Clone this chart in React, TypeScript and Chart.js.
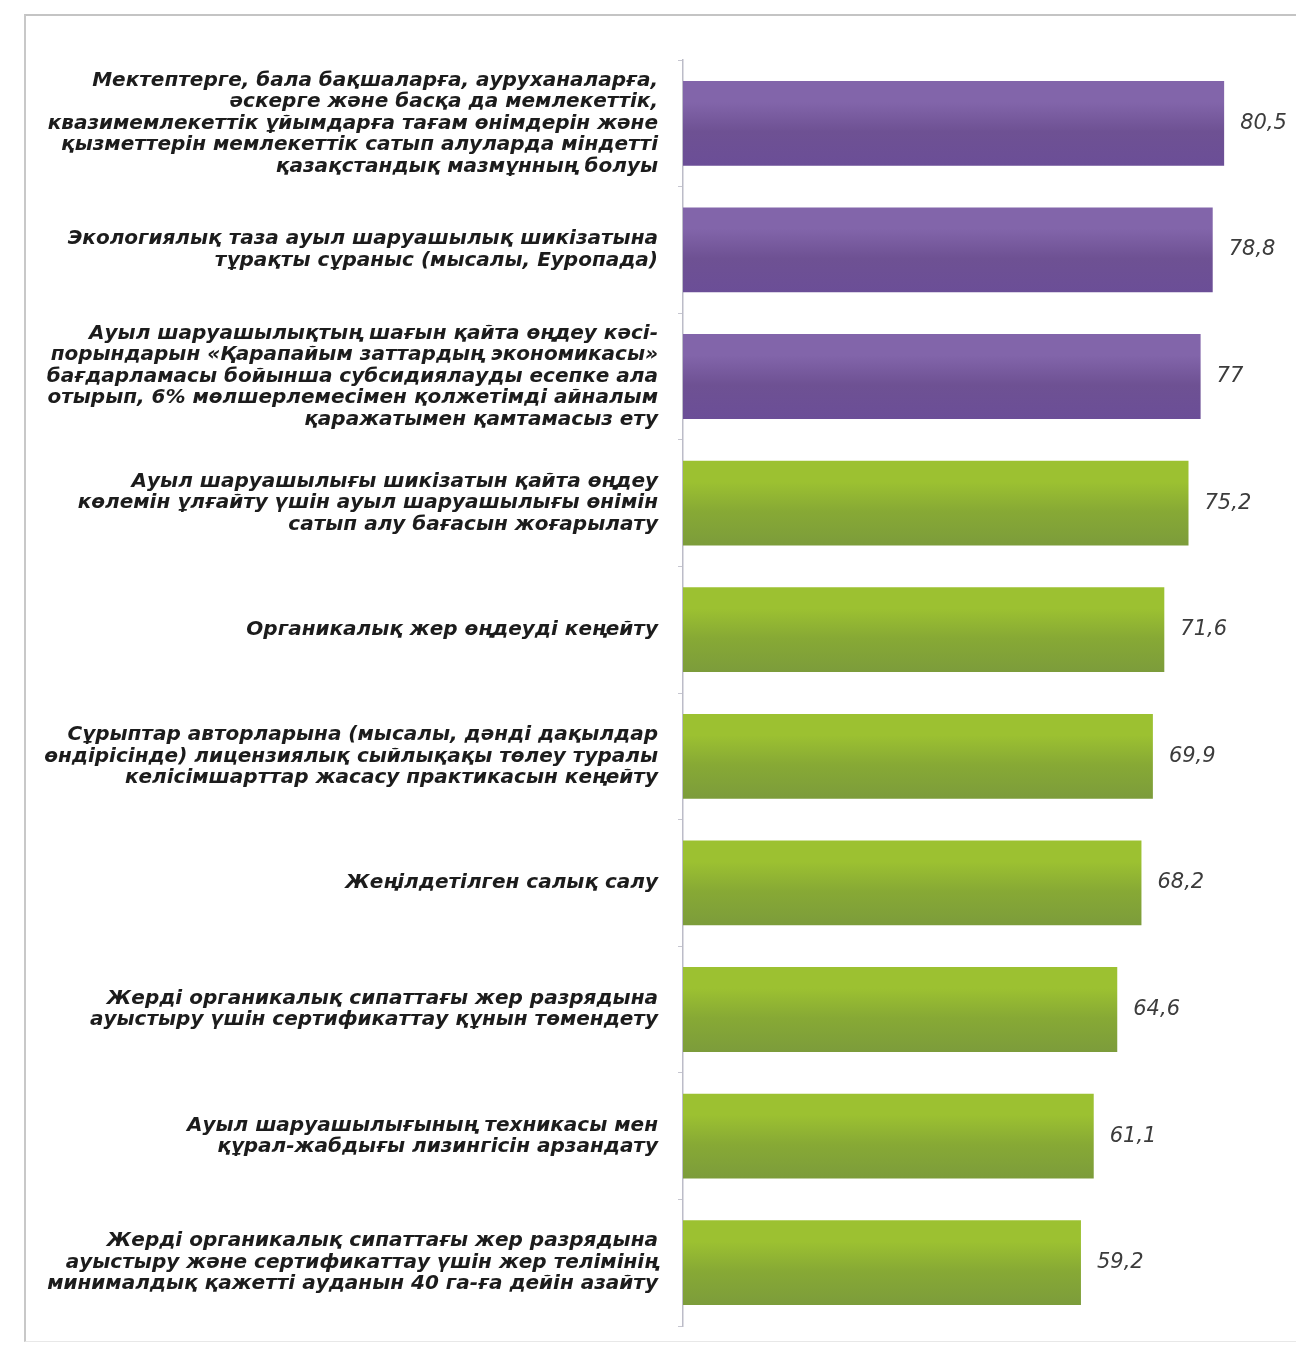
import React, { useEffect, useRef } from 'react';
import { Chart, registerables } from 'chart.js';

Chart.register(...registerables);

const categories: string[][] = [
  [
    'Мектептерге, бала бақшаларға, ауруханаларға,',
    'әскерге және басқа да мемлекеттік,',
    'квазимемлекеттік ұйымдарға тағам өнімдерін және',
    'қызметтерін мемлекеттік сатып алуларда міндетті',
    'қазақстандық мазмұнның болуы',
  ],
  ['Экологиялық таза ауыл шаруашылық шикізатына', 'тұрақты сұраныс (мысалы, Еуропада)'],
  [
    'Ауыл шаруашылықтың шағын қайта өңдеу кәсі-',
    'порындарын «Қарапайым заттардың экономикасы»',
    'бағдарламасы бойынша субсидиялауды есепке ала',
    'отырып, 6% мөлшерлемесімен қолжетімді айналым',
    'қаражатымен қамтамасыз ету',
  ],
  [
    'Ауыл шаруашылығы шикізатын қайта өңдеу',
    'көлемін ұлғайту үшін ауыл шаруашылығы өнімін',
    'сатып алу бағасын жоғарылату',
  ],
  ['Органикалық жер өңдеуді кеңейту'],
  [
    'Сұрыптар авторларына (мысалы, дәнді дақылдар',
    'өндірісінде) лицензиялық сыйлықақы төлеу туралы',
    'келісімшарттар жасасу практикасын кеңейту',
  ],
  ['Жеңілдетілген салық салу'],
  ['Жерді органикалық сипаттағы жер разрядына', 'ауыстыру үшін сертификаттау құнын төмендету'],
  ['Ауыл шаруашылығының техникасы мен', 'құрал-жабдығы лизингісін арзандату'],
  [
    'Жерді органикалық сипаттағы жер разрядына',
    'ауыстыру және сертификаттау үшін жер телімінің',
    'минималдық қажетті ауданын 40 га-ға дейін азайту',
  ],
];

const values: number[] = [80.5, 78.8, 77, 75.2, 71.6, 69.9, 68.2, 64.6, 61.1, 59.2];

const barGroups: string[] = [
  'purple', 'purple', 'purple',
  'green', 'green', 'green', 'green', 'green', 'green', 'green',
];

const palette: Record<string, string[]> = {
  purple: ['#8265aa', '#6e5193', '#6b4e97'],
  green: ['#9cc131', '#87a935', '#7c9c3b'],
};

const BAR_PCT = 0.67;

const formatValue = (v: number) => String(v).replace('.', ',');

const valueLabels = {
  id: 'valueLabels',
  afterDatasetsDraw(chart: any) {
    const ctx = chart.ctx;
    const meta = chart.getDatasetMeta(0);
    ctx.save();
    ctx.font = 'italic 21px "DejaVu Sans"';
    ctx.fillStyle = '#3c3c3c';
    ctx.textAlign = 'left';
    ctx.textBaseline = 'middle';
    meta.data.forEach((bar: any, i: number) => {
      ctx.fillText(formatValue(values[i]), bar.x + 16, bar.y);
    });
    ctx.restore();
  },
};

export default function App() {
  const canvasRef = useRef<HTMLCanvasElement | null>(null);

  useEffect(() => {
    if (!canvasRef.current) return;
    const chart = new Chart(canvasRef.current, {
      type: 'bar',
      data: {
        labels: categories as any,
        datasets: [
          {
            data: values,
            borderWidth: 0,
            barPercentage: BAR_PCT,
            categoryPercentage: 1,
            backgroundColor: (c: any) => {
              const cols = palette[barGroups[c.dataIndex] || 'green'];
              const chartObj = c.chart;
              if (!chartObj.chartArea || c.type !== 'data') return cols[1];
              const ys = chartObj.scales.y;
              const center = ys.getPixelForValue(c.dataIndex);
              const h = (ys.height / categories.length) * BAR_PCT;
              const g = chartObj.ctx.createLinearGradient(0, center - h / 2, 0, center + h / 2);
              g.addColorStop(0, cols[0]);
              g.addColorStop(0.25, cols[0]);
              g.addColorStop(0.6, cols[1]);
              g.addColorStop(1, cols[2]);
              return g;
            },
          },
        ],
      },
      options: {
        indexAxis: 'y',
        responsive: false,
        animation: false,
        devicePixelRatio: 1,
        layout: { padding: { top: 60, bottom: 23, right: 8, left: 0 } },
        plugins: {
          legend: { display: false },
          tooltip: { enabled: false },
        },
        scales: {
          x: {
            type: 'linear',
            min: 0,
            max: 90,
            display: false,
          },
          y: {
            type: 'category',
            position: 'left',
            grid: {
              display: true,
              drawOnChartArea: false,
              drawTicks: true,
              tickLength: 5,
              color: '#c6c6d0',
              offset: true,
            },
            border: { display: true, color: '#bcbcc8', width: 1.5 },
            ticks: {
              autoSkip: false,
              padding: 20,
              color: '#1c1c1c',
              font: { family: '"DejaVu Sans"', size: 20, weight: 'bold', style: 'italic', lineHeight: '21.5px' },
            },
            afterFit(scale: any) {
              scale.width = 683;
              scale.paddingTop = 0;
              scale.paddingBottom = 0;
            },
          },
        },
      } as any,
      plugins: [valueLabels],
    });
    return () => chart.destroy();
  }, []);

  return (
    <div
      style={{
        position: 'fixed',
        left: 0,
        top: 0,
        width: 1296,
        height: 1349,
        background: '#ffffff',
        overflow: 'hidden',
      }}
    >
      <div
        style={{
          position: 'absolute',
          left: 24,
          top: 14,
          width: 1296,
          height: 1328,
          borderLeft: '2px solid #c8c8c8',
          borderTop: '2px solid #c4c4c4',
          borderBottom: '1px solid #e8e8e8',
          boxSizing: 'border-box',
        }}
      />
      <canvas ref={canvasRef} width={1296} height={1349} style={{ position: 'absolute', left: 0, top: 0 }} />
    </div>
  );
}
